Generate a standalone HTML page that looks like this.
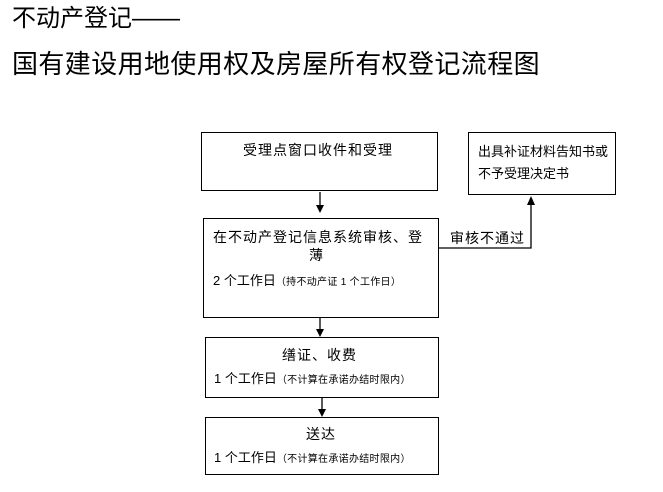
<!DOCTYPE html>
<html><head><meta charset="utf-8"><style>
body{margin:0;width:663px;height:492px;background:#fff;position:relative;overflow:hidden;font-family:"Liberation Sans","Noto Sans CJK SC",sans-serif;color:#000}
.t{position:absolute;white-space:nowrap;line-height:1}
.b{position:absolute;border:1.5px solid #000;box-sizing:border-box}
.s{font-size:14px;letter-spacing:1px}
.sm{font-size:10px;letter-spacing:0.3px}
</style></head><body>
<div class="t" style="left:12px;top:7px;font-size:24px">不动产登记——</div>
<div class="t" style="left:12px;top:51px;font-size:26px;letter-spacing:0.4px">国有建设用地使用权及房屋所有权登记流程图</div>

<div class="b" style="left:201px;top:132px;width:237px;height:59px"></div>
<div class="t s" style="left:243px;top:143px">受理点窗口收件和受理</div>

<div class="b" style="left:468px;top:132px;width:148px;height:63px"></div>
<div class="t" style="left:478px;top:145px;font-size:13px">出具补证材料告知书或</div>
<div class="t" style="left:478px;top:167px;font-size:13px">不予受理决定书</div>

<div class="b" style="left:203px;top:218px;width:236px;height:100px"></div>
<div class="t s" style="left:213px;top:230px">在不动产登记信息系统审核、登</div>
<div class="t s" style="left:309px;top:248px">薄</div>
<div class="t" style="left:213px;top:274px;font-size:13px">2 个工作日<span class="sm">（持不动产证 1 个工作日）</span></div>

<div class="b" style="left:205px;top:337px;width:234px;height:61px"></div>
<div class="t s" style="left:282px;top:348px">缮证、收费</div>
<div class="t" style="left:214px;top:372px;font-size:13px">1 个工作日<span class="sm">（不计算在承诺办结时限内）</span></div>

<div class="b" style="left:205px;top:417px;width:234px;height:58px"></div>
<div class="t s" style="left:306px;top:427px">送达</div>
<div class="t" style="left:214px;top:451px;font-size:13px">1 个工作日<span class="sm">（不计算在承诺办结时限内）</span></div>

<div class="t s" style="left:450px;top:231px">审核不通过</div>

<svg width="663" height="492" style="position:absolute;left:0;top:0">
<g stroke="#000" stroke-width="1.3" fill="none">
<line x1="320" y1="192" x2="320" y2="206"/>
<line x1="320" y1="318" x2="320" y2="330"/>
<line x1="322" y1="398" x2="322" y2="410"/>
<polyline points="439,248 531,248 531,205"/>
</g>
<g fill="#000">
<polygon points="316,205 324,205 320,213"/>
<polygon points="316,329 324,329 320,337"/>
<polygon points="318,409 326,409 322,417"/>
<polygon points="527,205 535,205 531,196"/>
</g>
</svg>
</body></html>
